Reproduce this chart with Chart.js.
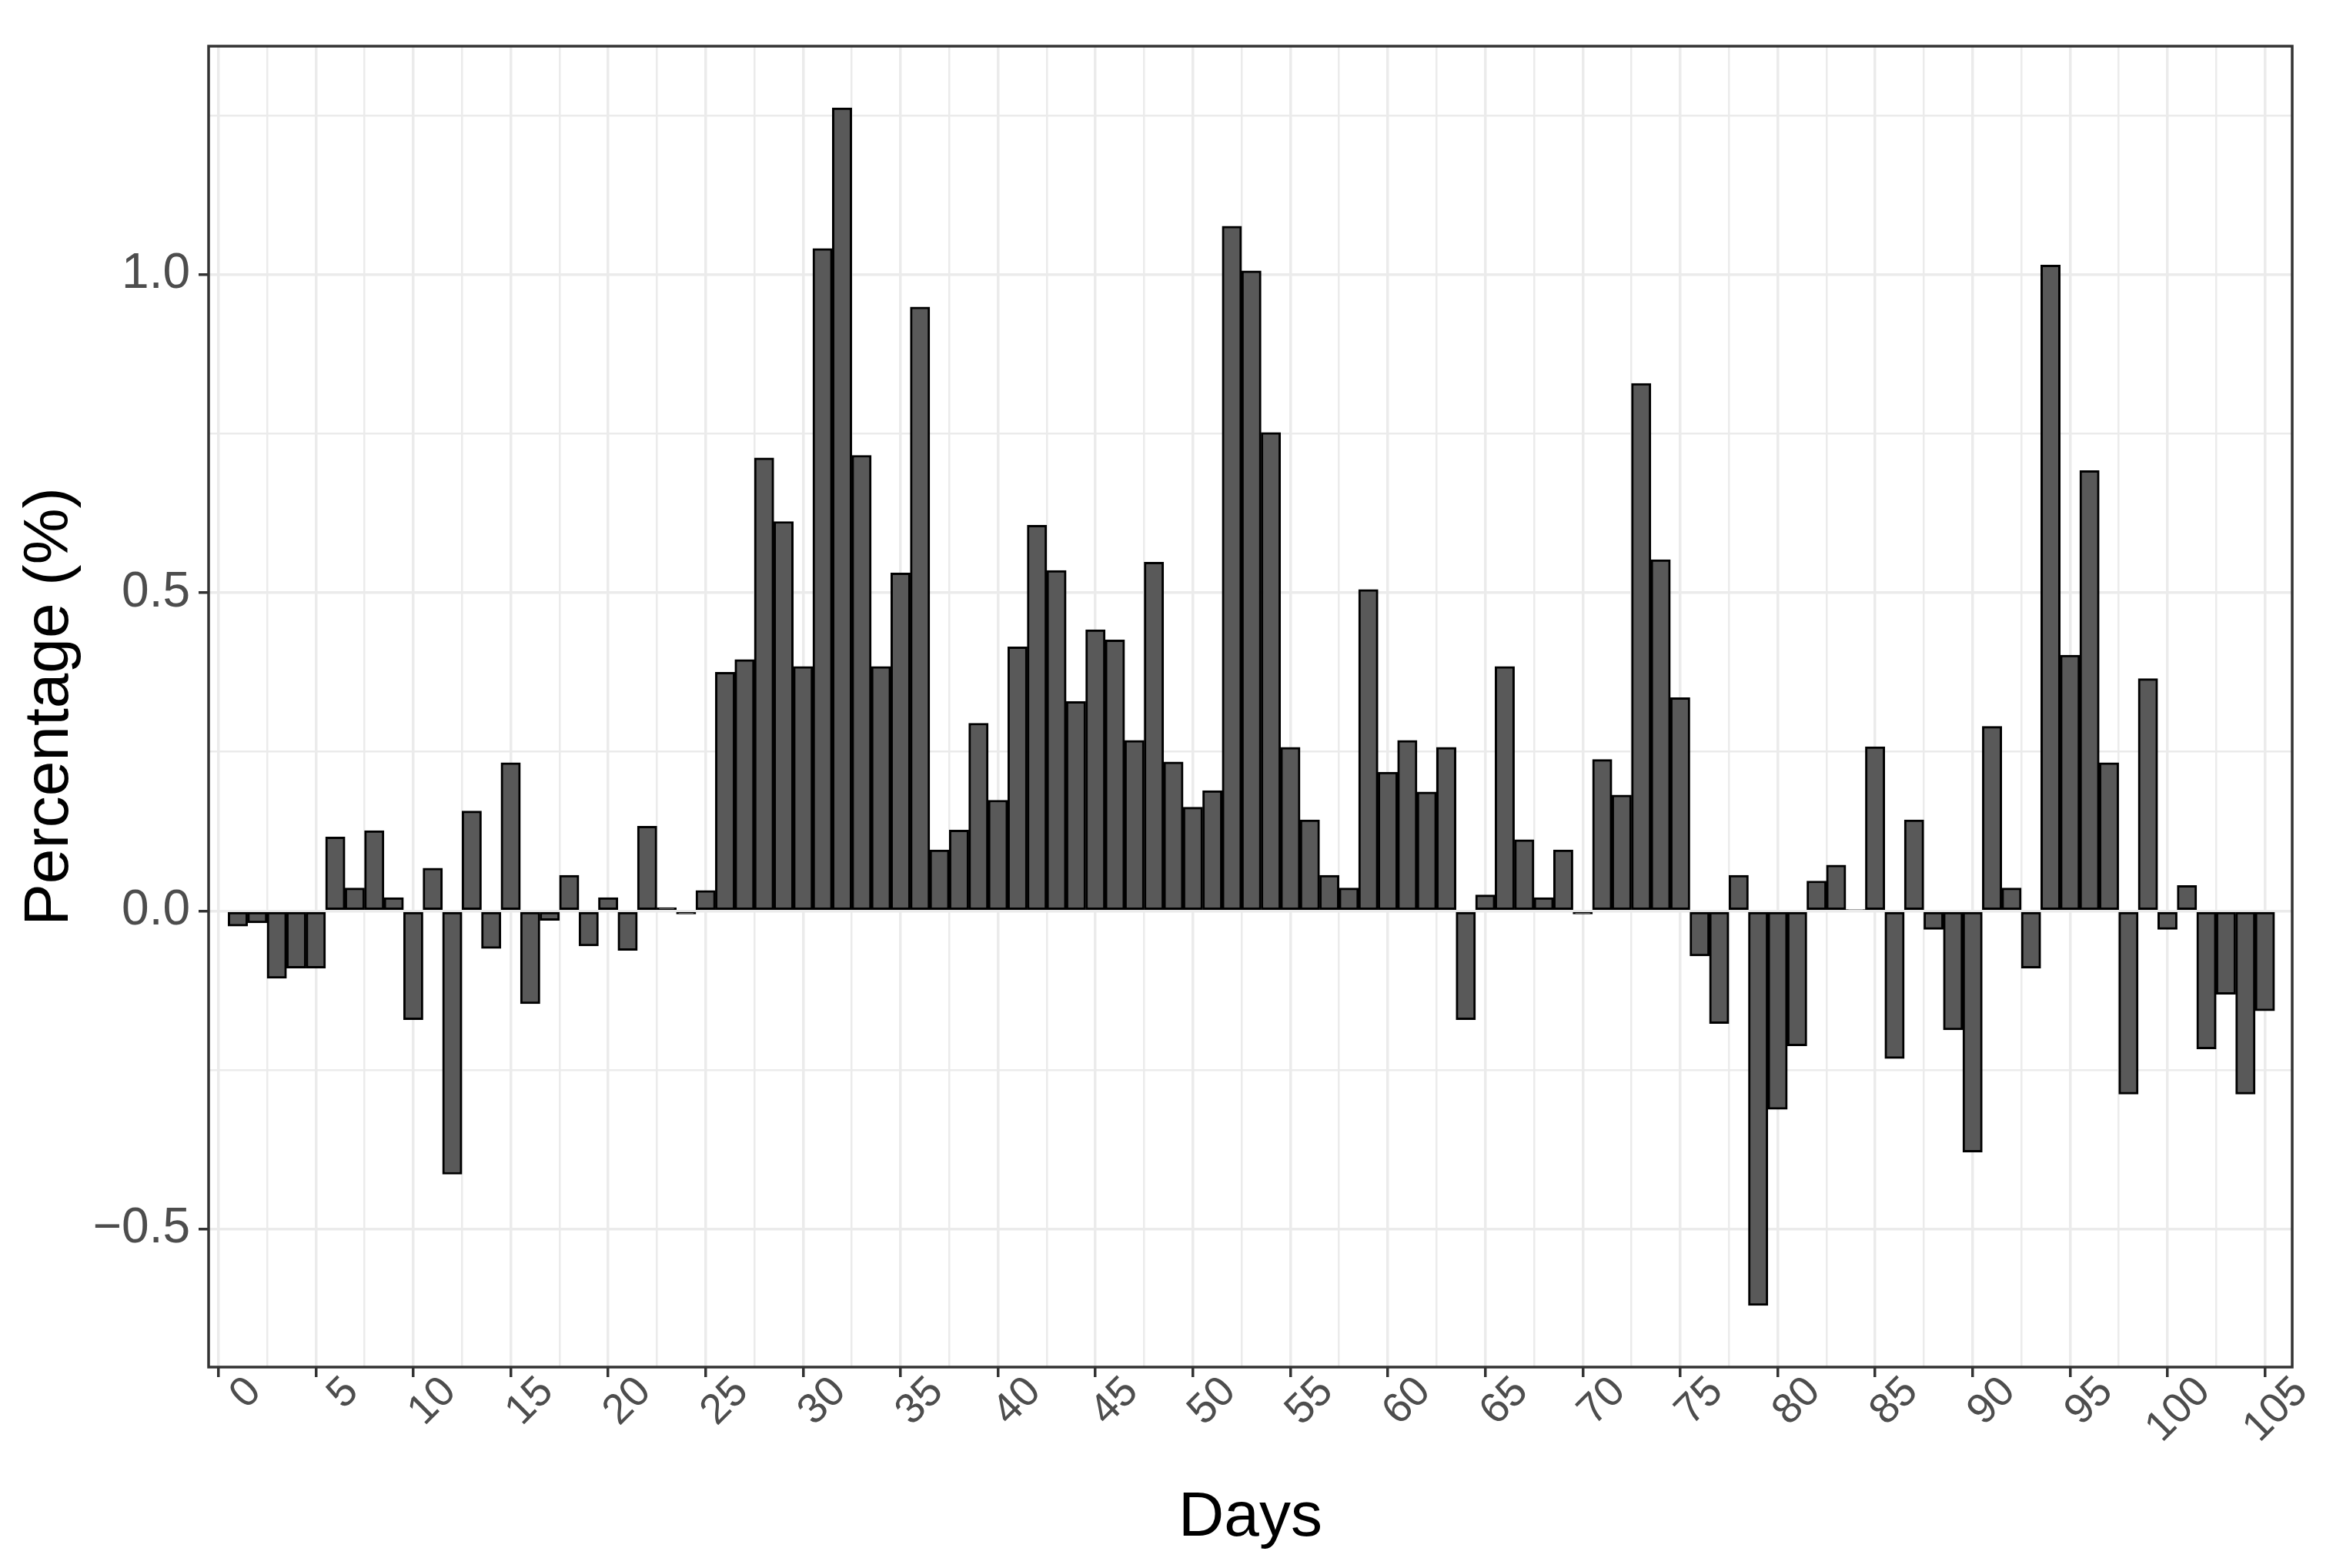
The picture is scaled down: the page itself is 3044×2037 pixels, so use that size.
<!DOCTYPE html>
<html>
<head>
<meta charset="utf-8">
<title>Percentage by day</title>
<script src="https://cdn.jsdelivr.net/npm/chart.js"></script>
<style>
  html, body { margin: 0; padding: 0; background: #ffffff; }
  #wrap { width: 3044px; height: 2037px; }
</style>
</head>
<body>
<div id="wrap"><canvas id="myChart" width="3044" height="2037"></canvas></div>
<script>
//=========== data ===========
var days = [
  1, 2, 3, 4, 5, 6, 7, 8, 9, 10, 11, 12, 13, 14, 15, 16, 17, 18, 19, 20,
  21, 22, 23, 24, 25, 26, 27, 28, 29, 30, 31, 32, 33, 34, 35, 36, 37, 38, 39, 40,
  41, 42, 43, 44, 45, 46, 47, 48, 49, 50, 51, 52, 53, 54, 55, 56, 57, 58, 59, 60,
  61, 62, 63, 64, 65, 66, 67, 68, 69, 70, 71, 72, 73, 74, 75, 76, 77, 78, 79, 80,
  81, 82, 83, 84, 85, 86, 87, 88, 89, 90, 91, 92, 93, 94, 95, 96, 97, 98, 99, 100,
  101, 102, 103, 104, 105
];
var percentage = [
  -0.024, -0.019, -0.106, -0.090, -0.090, 0.116, 0.036, 0.126, 0.021, -0.171,
  0.067, -0.414, 0.157, -0.059, 0.233, -0.146, -0.015, 0.056, -0.055, 0.021,
  -0.062, 0.133, 0.005, -0.005, 0.032, 0.375, 0.395, 0.712, 0.612, 0.384,
  1.041, 1.262, 0.716, 0.384, 0.531, 0.949, 0.096, 0.127, 0.295, 0.174,
  0.415, 0.606, 0.535, 0.329, 0.442, 0.426, 0.268, 0.548, 0.234, 0.163,
  0.189, 1.076, 1.006, 0.752, 0.257, 0.143, 0.056, 0.036, 0.505, 0.218,
  0.268, 0.187, 0.257, -0.171, 0.025, 0.384, 0.112, 0.021, 0.096, -0.005,
  0.238, 0.182, 0.829, 0.552, 0.335, -0.071, -0.177, 0.056, -0.620, -0.312,
  -0.212, 0.047, 0.072, 0.002, 0.258, -0.232, 0.143, -0.029, -0.187, -0.379,
  0.290, 0.036, -0.090, 1.015, 0.402, 0.692, 0.233, -0.288, 0.365, -0.029,
  0.040, -0.217, -0.131, -0.288, -0.157
];

// axis ticks (major ones carry labels, minor ones only a grid line)
var xTickValues = [0, 5, 10, 15, 20, 25, 30, 35, 40, 45, 50, 55, 60, 65, 70, 75, 80, 85, 90, 95, 100, 105];
var xTickLabels = ['0', '5', '10', '15', '20', '25', '30', '35', '40', '45', '50', '55', '60', '65', '70', '75', '80', '85', '90', '95', '100', '105'];
var xMinorValues = [2.5, 7.5, 12.5, 17.5, 22.5, 27.5, 32.5, 37.5, 42.5, 47.5, 52.5, 57.5, 62.5, 67.5, 72.5, 77.5, 82.5, 87.5, 92.5, 97.5, 102.5];
var yTickValues = [-0.5, 0, 0.5, 1];
var yTickLabels = ['\u22120.5', '0.0', '0.5', '1.0'];
var yMinorValues = [-0.25, 0.25, 0.75, 1.25];

var fontFamily = "'Liberation Sans', Arial, sans-serif";

function allTicks(major, minor) {
  return major.concat(minor).sort(function(a, b) { return a - b; }).map(function(v) {
    return { value: v };
  });
}

function isMajor(list, ctx) {
  return ctx.tick && list.indexOf(ctx.tick.value) !== -1;
}

//=========== panel frame (theme_bw border) ===========
var panelFrame = {
  id: 'panelFrame',
  afterDraw: function(chart) {
    var a = chart.chartArea;
    var ctx = chart.ctx;
    ctx.save();
    ctx.strokeStyle = '#333333';
    ctx.lineWidth = 3.5;
    ctx.strokeRect(a.left, a.top, a.right - a.left, a.bottom - a.top);
    ctx.restore();
  }
};

//=========== chart ===========
var barData = days.map(function(d, i) {
  return { x: d, y: percentage[i] };
});

var ctx = document.getElementById('myChart').getContext('2d');
var chart = new Chart(ctx, {
  type: 'bar',
  data: {
    datasets: [{
      label: 'Percentage',
      data: barData,
      backgroundColor: '#595959',
      borderColor: '#000000',
      borderWidth: 3,
      borderSkipped: false,
      barPercentage: 1,
      categoryPercentage: 1
    }]
  },
  options: {
    responsive: false,
    animation: false,
    layout: { padding: { top: 60, right: 66, bottom: 0, left: 0 } },
    plugins: {
      legend: { display: false },
      tooltip: { enabled: false }
    },
    scales: {
      x: {
        type: 'linear',
        min: -0.5,
        max: 106.4,
        bounds: 'data',
        offset: false,
        afterBuildTicks: function(scale) {
          scale.ticks = allTicks(xTickValues, xMinorValues);
        },
        afterFit: function(scale) {
          scale.height = 261;
        },
        border: { display: false },
        grid: {
          offset: false,
          color: '#EBEBEB',
          lineWidth: function(c) { return isMajor(xTickValues, c) ? 3.5 : 2.5; },
          tickLength: 13,
          tickWidth: 3.5,
          tickColor: function(c) { return isMajor(xTickValues, c) ? '#333333' : 'rgba(0,0,0,0)'; }
        },
        ticks: {
          autoSkip: false,
          minRotation: 45,
          maxRotation: 45,
          labelOffset: 47,
          padding: -13,
          color: '#4D4D4D',
          font: { family: fontFamily, size: 55, lineHeight: 1.2 },
          callback: function(value) {
            var i = xTickValues.indexOf(value);
            return i === -1 ? '' : xTickLabels[i];
          }
        },
        title: {
          display: true,
          text: 'Days',
          color: '#000000',
          font: { family: fontFamily, size: 82, lineHeight: 1.2 },
          padding: { top: 0, bottom: 15 }
        }
      },
      y: {
        type: 'linear',
        min: -0.717,
        max: 1.359,
        bounds: 'data',
        afterBuildTicks: function(scale) {
          scale.ticks = allTicks(yTickValues, yMinorValues);
        },
        afterFit: function(scale) {
          scale.width = 271;
        },
        border: { display: false },
        grid: {
          color: '#EBEBEB',
          lineWidth: function(c) { return isMajor(yTickValues, c) ? 3.5 : 2.5; },
          tickLength: 13,
          tickWidth: 3.5,
          tickColor: function(c) { return isMajor(yTickValues, c) ? '#333333' : 'rgba(0,0,0,0)'; }
        },
        ticks: {
          autoSkip: false,
          padding: 11,
          color: '#4D4D4D',
          font: { family: fontFamily, size: 64 },
          callback: function(value) {
            var i = yTickValues.indexOf(value);
            return i === -1 ? '' : yTickLabels[i];
          }
        },
        title: {
          display: true,
          text: 'Percentage (%)',
          color: '#000000',
          font: { family: fontFamily, size: 82, lineHeight: 1.2 },
          padding: { top: 16, bottom: 0 }
        }
      }
    }
  },
  plugins: [panelFrame]
}); //=========== closing chart ===========
</script>
</body>
</html>
